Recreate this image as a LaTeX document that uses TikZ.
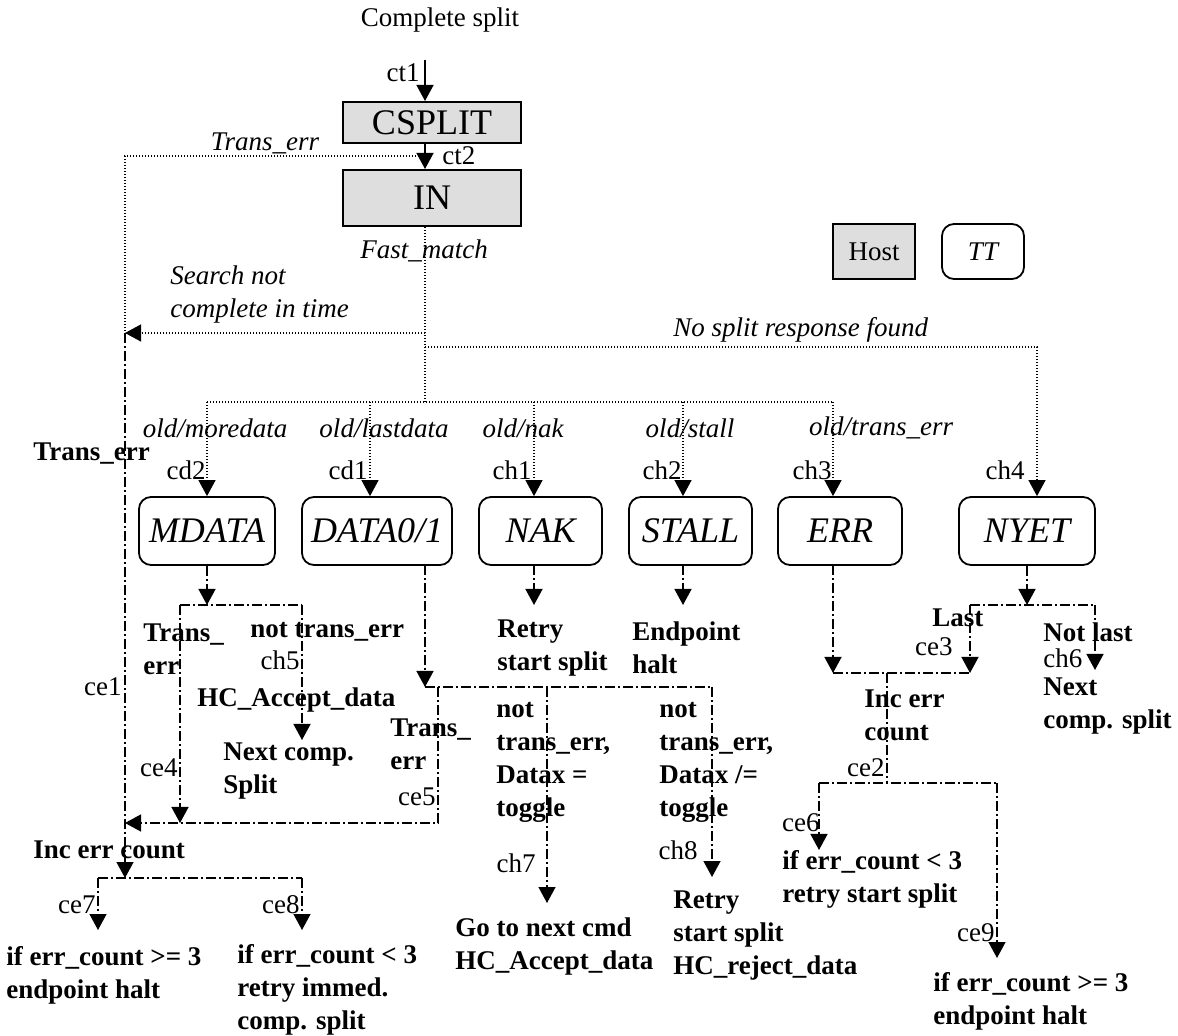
\documentclass[tikz,border=0pt]{standalone}
\usepackage{fontspec}
\setmainfont{Liberation Serif}
\usetikzlibrary{arrows.meta}
\begin{document}
\begin{tikzpicture}[x=0.5pt,y=-0.5pt,
  hostbox/.style={draw,line width=1pt,fill=black!13,inner sep=0pt},
  rowbox/.style={draw,line width=0.9pt,rounded corners=6pt,inner sep=0pt,minimum height=34pt,font=\fontsize{18}{20}\selectfont\itshape},
  big/.style={font=\fontsize{18}{20}\selectfont},
  lab/.style={font=\fontsize{13.5}{16.5}\selectfont,inner sep=0pt},
  itl/.style={font=\fontsize{13.5}{16.5}\selectfont\itshape,inner sep=0pt,align=left},
  bfl/.style={font=\fontsize{13.5}{16.5}\selectfont\bfseries,inner sep=0pt,align=left,anchor=west},
  dotl/.style={line width=0.6pt,dash pattern=on 0.6pt off 0.9pt},
  dd/.style={line width=0.7pt,dash pattern=on 5pt off 1.5pt on 1pt off 1.5pt},
  arr/.style={-{Triangle[width=8.5pt,length=8pt]}},
]
\path[use as bounding box] (0,0) rectangle (1178,1036);

% ---------- boxes ----------
\node[lab] (title) at (440,20) {Complete split};
\node[hostbox,big,minimum width=89pt,minimum height=20.5pt] (csplit) at (432,122.5) {CSPLIT};
\node[hostbox,big,minimum width=89pt,minimum height=28pt] (innode) at (432,198) {IN};
\node[hostbox,lab,minimum width=41pt,minimum height=27.5pt] (host) at (874,251.5) {Host};
\node[draw,line width=0.9pt,rounded corners=6pt,inner sep=0pt,minimum width=41pt,minimum height=27.5pt,font=\fontsize{13.5}{16.5}\selectfont\itshape] (tt) at (983,251.5) {TT};

\node[rowbox,minimum width=68pt] (mdata) at (207,531) {MDATA};
\node[rowbox,minimum width=75pt] (data) at (377,531) {DATA0/1};
\node[rowbox,minimum width=61.5pt] (nak) at (540.5,531) {NAK};
\node[rowbox,minimum width=61.5pt] (stall) at (690.5,531) {STALL};
\node[rowbox,minimum width=62pt] (err) at (840,531) {ERR};
\node[rowbox,minimum width=68pt] (nyet) at (1027,531) {NYET};

% ---------- italic labels ----------
\node[itl] (lte) at (265,143) {Trans\_err};
\node[itl] (lfm) at (424,251) {Fast\_match};
\node[itl,anchor=west] (lsnc) at (170,295) {Search not\\complete in time};
\node[itl,anchor=west] (lnsr) at (673,330) {No split response found};
\node[itl] (lo1) at (215,428) {old/moredata};
\node[itl] (lo2) at (384,428) {old/lastdata};
\node[itl] (lo3) at (523,428) {old/nak};
\node[itl] (lo4) at (690,428) {old/stall};
\node[itl] (lo5) at (881,428) {old/trans\_err};

% ---------- regular small labels ----------
\node[lab,anchor=east] (lct1) at (420,73) {ct1};
\node[lab,anchor=west] (lct2) at (442,156) {ct2};
\node[lab,anchor=east] (lcd2) at (206,470) {cd2};
\node[lab,anchor=east] (lcd1) at (368,470) {cd1};
\node[lab,anchor=east] (lch1) at (532,470) {ch1};
\node[lab,anchor=east] (lch2) at (682,470) {ch2};
\node[lab,anchor=east] (lch3) at (832,470) {ch3};
\node[lab,anchor=east] (lch4) at (1025,470) {ch4};
\node[lab,anchor=east] (lch5) at (300,660) {ch5};
\node[lab,anchor=east] (lce1) at (122,687) {ce1};
\node[lab,anchor=east] (lce4) at (178,768) {ce4};
\node[lab,anchor=east] (lce5) at (436,797) {ce5};
\node[lab,anchor=east] (lce3) at (953,647) {ce3};
\node[lab,anchor=west] (lch6) at (1043,658) {ch6};
\node[lab,anchor=east] (lce2) at (885,768) {ce2};
\node[lab,anchor=east] (lce6) at (820,823) {ce6};
\node[lab,anchor=east] (lce9) at (995,933) {ce9};
\node[lab,anchor=east] (lch7) at (536,863) {ch7};
\node[lab,anchor=east] (lch8) at (698,850) {ch8};
\node[lab,anchor=east] (lce7) at (96,905) {ce7};
\node[lab,anchor=east] (lce8) at (300,905) {ce8};

% ---------- bold labels ----------
\node[bfl] (b0) at (33,454) {Trans\_err};
\node[bfl] (b1) at (143,649) {Trans\_\\err};
\node[bfl] (b2) at (250,632) {not trans\_err};
\node[bfl] (b3) at (197,700) {HC\_Accept\_data};
\node[bfl] (b4) at (223,771) {Next comp.\\Split};
\node[bfl] (b5) at (497,648) {Retry\\start split};
\node[bfl] (b6) at (632,648) {Endpoint\\halt};
\node[bfl] (b7) at (932,618) {Last};
\node[bfl] (b8) at (1043,632) {Not last};
\node[bfl] (b9) at (1043,706) {Next\\comp. split};
\node[bfl] (b10) at (864,715) {Inc err\\count};
\node[bfl] (b11) at (390,744) {Trans\_\\err};
\node[bfl] (b12) at (496,762) {not\\trans\_err,\\Datax =\\toggle};
\node[bfl] (b13) at (659,762) {not\\trans\_err,\\Datax /=\\toggle};
\node[bfl] (b14) at (455,947) {Go to next cmd\\HC\_Accept\_data};
\node[bfl] (b15) at (673,936) {Retry\\start split\\HC\_reject\_data};
\node[bfl] (b16) at (782,879) {if err\_count < 3\\retry start split};
\node[bfl] (b17) at (933,1001) {if err\_count >= 3\\endpoint halt};
\node[bfl] (b18) at (33,850) {Inc err count};
\node[bfl] (b19) at (6,975) {if err\_count >= 3\\endpoint halt};
\node[bfl] (b20) at (237,990) {if err\_count < 3\\retry immed.\\comp. split};

% ---------- coordinates ----------
\coordinate (ct1s) at (425,60);
\coordinate (te) at (425,156);
\coordinate (lx) at (125,156);
\coordinate (sj) at (125,333);
\coordinate (snc) at (425,333);
\coordinate (nsr) at (425,347);
\coordinate (nsr2) at (1037,347);
\coordinate (bus) at (425,402);
\coordinate (busL) at (207,402);
\coordinate (bcd1) at (370,402);
\coordinate (bch1) at (534,402);
\coordinate (bch2) at (683,402);
\coordinate (busR) at (833,402);
\coordinate (iec) at (125,878);
\coordinate (m1) at (207,605);
\coordinate (mL) at (180,605);
\coordinate (mR) at (302,605);
\coordinate (ch5e) at (302,740);
\coordinate (retL) at (125,823);
\coordinate (dx) at (425,565);
\coordinate (dj) at (425,687);
\coordinate (d5) at (438,687);
\coordinate (ret) at (438,823);
\coordinate (d7) at (547,687);
\coordinate (d8) at (712,687);
\coordinate (d7e) at (547,903);
\coordinate (d8e) at (712,877);
\coordinate (nakx) at (534,565);
\coordinate (nake) at (534,605);
\coordinate (stx) at (683,565);
\coordinate (ste) at (683,605);
\coordinate (erx) at (833,565);
\coordinate (ere) at (833,673);
\coordinate (ny1) at (1027,605);
\coordinate (nyL) at (970,605);
\coordinate (nyR) at (1095,605);
\coordinate (ce3e) at (970,673);
\coordinate (ch6e) at (1095,670);
\coordinate (ic) at (887,673);
\coordinate (ic2) at (887,783);
\coordinate (e6) at (819,783);
\coordinate (e9) at (997,783);
\coordinate (e6e) at (819,850);
\coordinate (e9e) at (997,958);
\coordinate (bl) at (98,878);
\coordinate (br) at (302,878);
\coordinate (ble) at (98,930);
\coordinate (bre) at (302,930);

% ---------- top connectors ----------
\draw[arr,line width=0.7pt] (ct1s) -- (ct1s |- csplit.north);
\draw[arr,line width=0.7pt] (csplit.south -| ct1s) -- (innode.north -| ct1s);
\draw[dotl] (te) -- (lx) -- (sj);
\draw[dotl] (innode.south -| ct1s) -- (bus);
\draw[dotl,arr] (snc) -- (sj);
\draw[dotl,arr] (nsr) -- (nsr2) -- (nsr2 |- nyet.north);
\draw[dotl] (busL) -- (busR);
\draw[dotl,arr] (busL) -- (busL |- mdata.north);
\draw[dotl,arr] (bcd1) -- (bcd1 |- data.north);
\draw[dotl,arr] (bch1) -- (bch1 |- nak.north);
\draw[dotl,arr] (bch2) -- (bch2 |- stall.north);
\draw[dotl,arr] (busR) -- (busR |- err.north);

% ---------- dash-dot connectors ----------
\draw[dd,arr] (sj) -- (iec);
\draw[dd,arr] (mdata.south) -- (m1);
\draw[dd] (mL) -- (mR);
\draw[dd,arr] (mL) -- (mL |- retL);
\draw[dd,arr] (mR) -- (ch5e);
\draw[dd,arr] (dx) -- (dj);
\draw[dd] (dj) -- (d8);
\draw[dd,arr] (d5) -- (ret) -- (retL);
\draw[dd,arr] (d7) -- (d7e);
\draw[dd,arr] (d8) -- (d8e);
\draw[dd,arr] (nakx) -- (nake);
\draw[dd,arr] (stx) -- (ste);
\draw[dd,arr] (erx) -- (ere);
\draw[dd,arr] (nyet.south) -- (ny1);
\draw[dd] (nyL) -- (nyR);
\draw[dd,arr] (nyL) -- (ce3e);
\draw[dd,arr] (nyR) -- (ch6e);
\draw[dd] (ere) -- (ce3e);
\draw[dd] (ic) -- (ic2);
\draw[dd] (e6) -- (e9);
\draw[dd,arr] (e6) -- (e6e);
\draw[dd,arr] (e9) -- (e9e);
\draw[dd] (bl) -- (br);
\draw[dd,arr] (bl) -- (ble);
\draw[dd,arr] (br) -- (bre);
\end{tikzpicture}
\end{document}
